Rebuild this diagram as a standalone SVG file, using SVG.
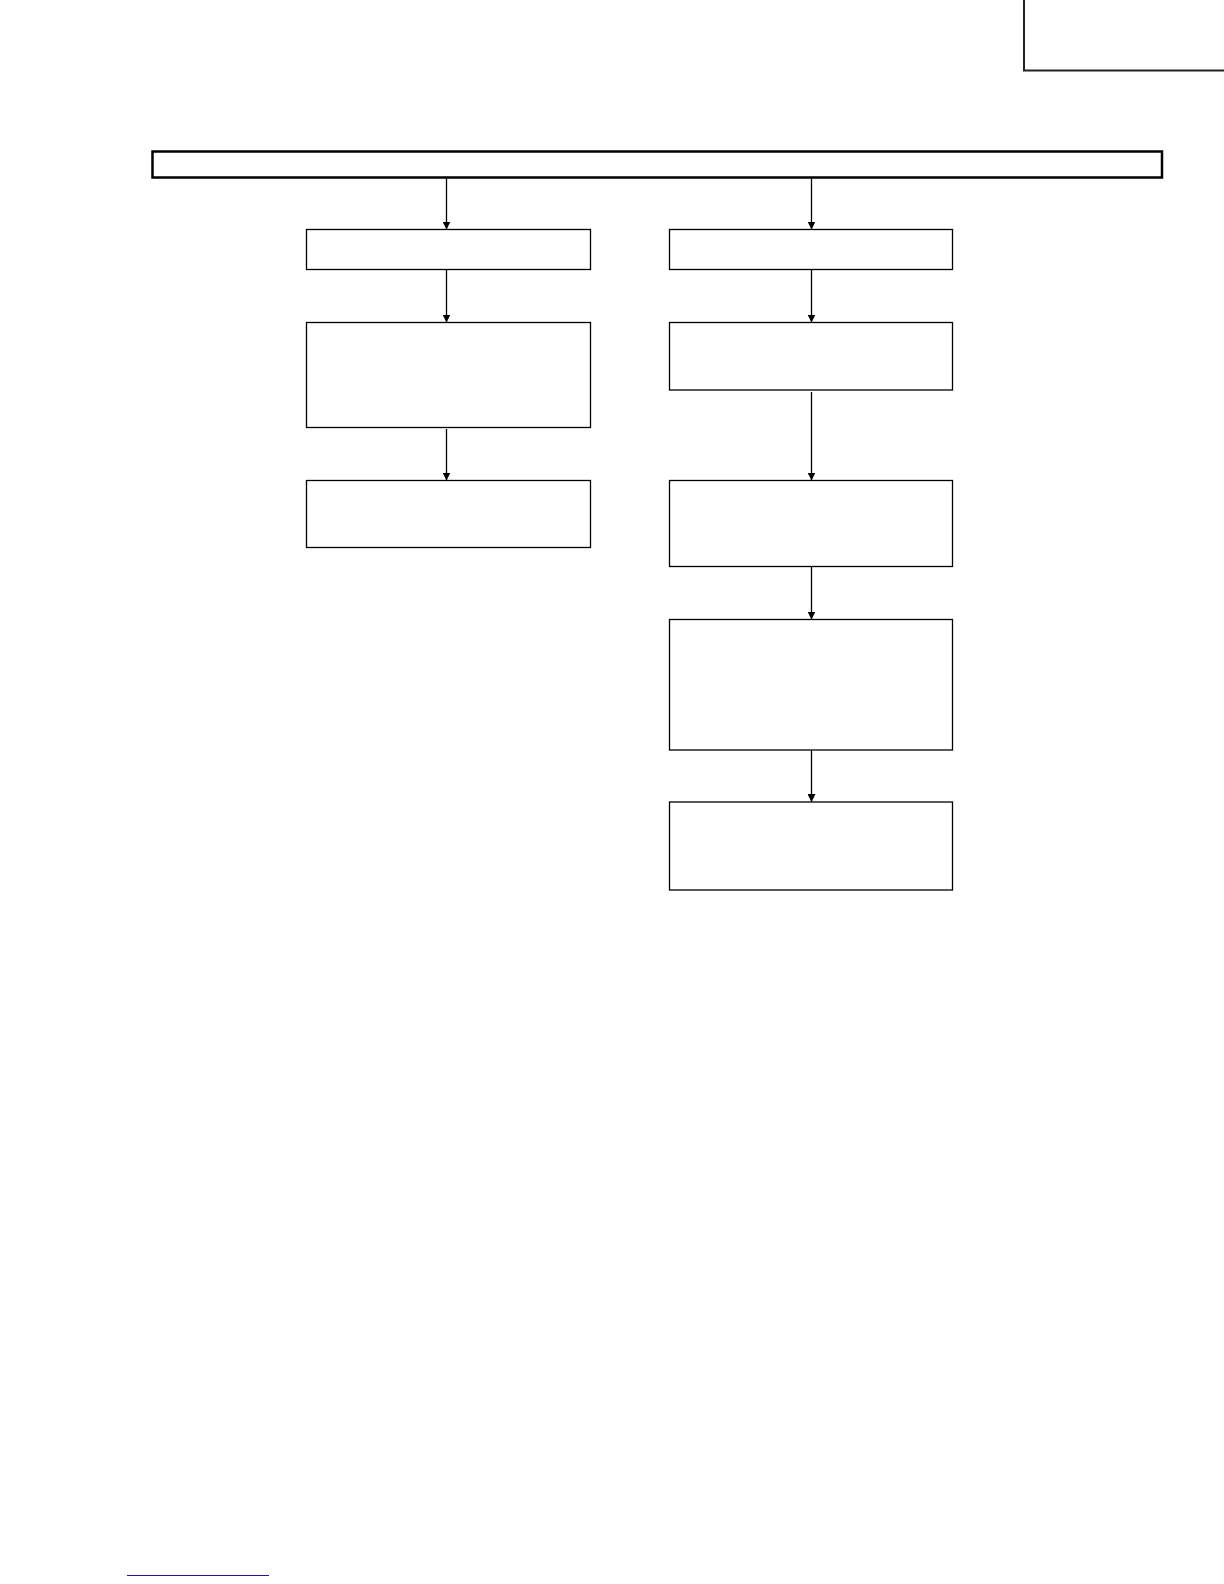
<svg xmlns="http://www.w3.org/2000/svg" width="1224" height="1584" viewBox="0 0 1224 1584">
<defs>
<marker id="arr" markerWidth="8" markerHeight="8" refX="8" refY="4" orient="auto" markerUnits="userSpaceOnUse">
<path d="M0,0 L8,4 L0,8 Z" fill="#000"/>
</marker>
<style>
.box{fill:#fff;stroke:#000;stroke-width:1.3}
.bar{fill:#fff;stroke:#000;stroke-width:2.5}
.conn{stroke:#000;stroke-width:1.3;fill:none}
</style>
</defs>
<rect width="1224" height="1584" fill="#fff"/>
<g id="corner"><path d="M1024,0 V70.5 H1224" fill="none" stroke="#222" stroke-width="2"/></g>
<g id="topbar"><rect class="bar" x="152.5" y="151.5" width="1009.5" height="26"/></g>
<g id="L1"><rect class="box" x="306.5" y="229.5" width="284" height="40"/></g>
<g id="L2"><rect class="box" x="306.5" y="322.5" width="284" height="105"/></g>
<g id="L3"><rect class="box" x="306.5" y="480.5" width="284" height="67"/></g>
<g id="R1"><rect class="box" x="669.5" y="229.5" width="283" height="40"/></g>
<g id="R2"><rect class="box" x="669.5" y="322.5" width="283" height="67.5"/></g>
<g id="R3"><rect class="box" x="669.5" y="480.5" width="283" height="86"/></g>
<g id="R4"><rect class="box" x="669.5" y="619.5" width="283" height="130.5"/></g>
<g id="R5"><rect class="box" x="669.5" y="802" width="283" height="88"/></g>
<g id="connectors">
<line class="conn" x1="446.5" y1="178.5" x2="446.5" y2="229.5" marker-end="url(#arr)"/>
<line class="conn" x1="446.5" y1="269.5" x2="446.5" y2="322.5" marker-end="url(#arr)"/>
<line class="conn" x1="446.5" y1="429" x2="446.5" y2="480.5" marker-end="url(#arr)"/>
<line class="conn" x1="811.5" y1="178.5" x2="811.5" y2="229.5" marker-end="url(#arr)"/>
<line class="conn" x1="811.5" y1="269.5" x2="811.5" y2="322.5" marker-end="url(#arr)"/>
<line class="conn" x1="811.5" y1="392" x2="811.5" y2="480.5" marker-end="url(#arr)"/>
<line class="conn" x1="811.5" y1="566.5" x2="811.5" y2="619.5" marker-end="url(#arr)"/>
<line class="conn" x1="811.5" y1="750" x2="811.5" y2="802" marker-end="url(#arr)"/>
</g>
<g id="footer"><line x1="127" y1="1575.5" x2="269" y2="1575.5" stroke="#1a1aa0" stroke-width="1"/></g>
</svg>
